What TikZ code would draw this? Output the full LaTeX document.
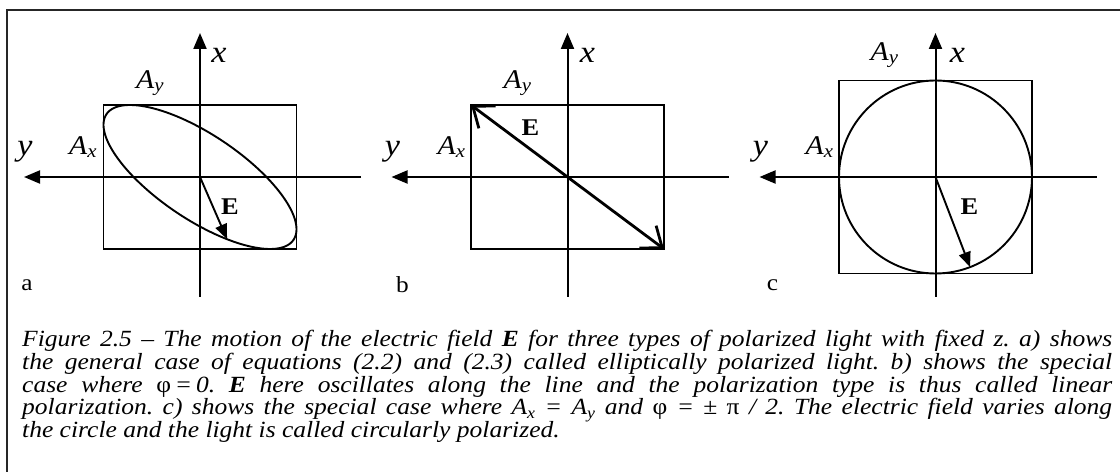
\documentclass[tikz,border=0pt]{standalone}
\usepackage{fontspec}
\setmainfont{Liberation Serif}[FakeStretch=1.1]
\usetikzlibrary{arrows.meta}

\newcommand{\amp}[1]{\textit{A}\textsubscript{\textit{#1}}}
\newcommand{\captionfont}{\fontsize{23.2}{22.8}\selectfont\itshape\frenchspacing\lineskiplimit=-20pt\relax}

\begin{document}
\begin{tikzpicture}[
    x=1pt, y=1pt,
    % -------------------------------------------------
    % Line styles
    % -------------------------------------------------
    frame/.style={
        line width=2pt,
        draw=black!85
    },
    box/.style={
        line width=1.9pt
    },
    curve/.style={
        line width=1.9pt
    },
    axis/.style={
        -{Triangle[length=16pt,width=13pt]},
        line width=2pt
    },
    field/.style={
        -{Triangle[length=15pt,width=12pt]},
        line width=1.9pt
    },
    linfield/.style={
        {Straight Barb[length=18pt,width=28pt]}-{Straight Barb[length=18pt,width=28pt]},
        line width=2.8pt
    },
    % -------------------------------------------------
    % Text styles
    % -------------------------------------------------
    varlabel/.style={
        font=\fontsize{31}{31}\selectfont\itshape,
        inner sep=0pt
    },
    amplabel/.style={
        font=\fontsize{27}{27}\selectfont,
        inner sep=0pt
    },
    veclabel/.style={
        font=\fontsize{24}{24}\selectfont\bfseries,
        inner sep=0pt
    },
    panellabel/.style={
        font=\fontsize{23}{23}\selectfont,
        inner sep=0pt
    },
    captiontext/.style={
        font=\captionfont,
        text width=1090pt,
        align=justify,
        inner sep=0pt,
        anchor=north west
    }
]

\useasboundingbox (0,0) rectangle (1120,472);

% =====================================================
% Frame
% =====================================================

\coordinate (fcorner) at (7,462);
\coordinate (fright) at (1120,462);
\coordinate (fbottom) at (7,0);

\draw[frame] (fright) -- (fcorner) -- (fbottom);

% =====================================================
% a) Elliptical polarization
% =====================================================

\begin{scope}[shift={(200,295)}]
\coordinate (ao) at (0,0);
\coordinate (atop) at (0,144);
\coordinate (abot) at (0,-120);
\coordinate (aleft) at (-176,0);
\coordinate (aright) at (161,0);
\coordinate (atip) at ({96.5*cos(73.7)},{72*cos(73.7+136.5)});

\draw[box] (-96.5,-72) rectangle (96.5,72);
\draw[axis] (abot) -- (atop);
\draw[axis] (aright) -- (aleft);
\draw[curve] plot[domain=0:360, samples=144, smooth cycle, variable=\t]
    ({96.5*cos(\t)},{72*cos(\t+136.5)});
\draw[field] (ao) -- (atip);

\node[varlabel] (ax) at (19,122) {x};
\node[varlabel] (ay) at (-175,25) {y};
\node[amplabel] (aAy) at (-50,94) {\amp{y}};
\node[amplabel] (aAx) at (-117,30) {\amp{x}};
\node[veclabel] (aE) at (30,-30) {E};
\node[panellabel] (alabel) at (-173,-108) {a};
\end{scope}

% =====================================================
% b) Linear polarization
% =====================================================

\begin{scope}[shift={(567.5,295)}]
\coordinate (bo) at (0,0);
\coordinate (btop) at (0,144);
\coordinate (bbot) at (0,-120);
\coordinate (bleft) at (-176,0);
\coordinate (bright) at (161,0);
\coordinate (bnw) at (-96.5,72);
\coordinate (bse) at (96.5,-72);

\draw[box] (-96.5,-72) rectangle (96.5,72);
\draw[axis] (bbot) -- (btop);
\draw[axis] (bright) -- (bleft);
\draw[linfield] (bnw) -- (bse);

\node[varlabel] (bx) at (20,122) {x};
\node[varlabel] (by) at (-175,25) {y};
\node[amplabel] (bAy) at (-50,94) {\amp{y}};
\node[amplabel] (bAx) at (-116,30) {\amp{x}};
\node[veclabel] (bE) at (-37,49) {E};
\node[panellabel] (blabel) at (-165,-108) {b};
\end{scope}

% =====================================================
% c) Circular polarization
% =====================================================

\begin{scope}[shift={(935.5,295)}]
\coordinate (co) at (0,0);
\coordinate (ctop) at (0,144);
\coordinate (cbot) at (0,-120);
\coordinate (cleft) at (-176,0);
\coordinate (cright) at (161,0);
\coordinate (ctip) at (-69:96.5);

\draw[box] (-96.5,-96.5) rectangle (96.5,96.5);
\draw[axis] (cbot) -- (ctop);
\draw[axis] (cright) -- (cleft);
\draw[curve] (co) circle[radius=96.5];
\draw[field] (co) -- (ctip);

\node[varlabel] (cx) at (22,122) {x};
\node[varlabel] (cy) at (-175,25) {y};
\node[amplabel] (cAy) at (-51,122) {\amp{y}};
\node[amplabel] (cAx) at (-116,30) {\amp{x}};
\node[veclabel] (cE) at (34,-30) {E};
\node[panellabel] (clabel) at (-163,-108) {c};
\end{scope}

% =====================================================
% Caption
% =====================================================

\node[captiontext] (caption) at (22,142)
    {Figure 2.5 – The motion of the electric field \textbf{E} for three types of polarized light with fixed z. a) shows\linebreak
     the general case of equations (2.2) and (2.3) called elliptically polarized light. b) shows the special\linebreak
     case where \textup{φ}\,=\,0. \textbf{E} here oscillates along the line and the polarization type is thus called linear\linebreak
     polarization. c) shows the special case where A\textsubscript{x} = A\textsubscript{y} and \textup{φ} = \textup{± π} / 2. The electric field varies along\linebreak
     the circle and the light is called circularly polarized.};

\end{tikzpicture}
\end{document}
